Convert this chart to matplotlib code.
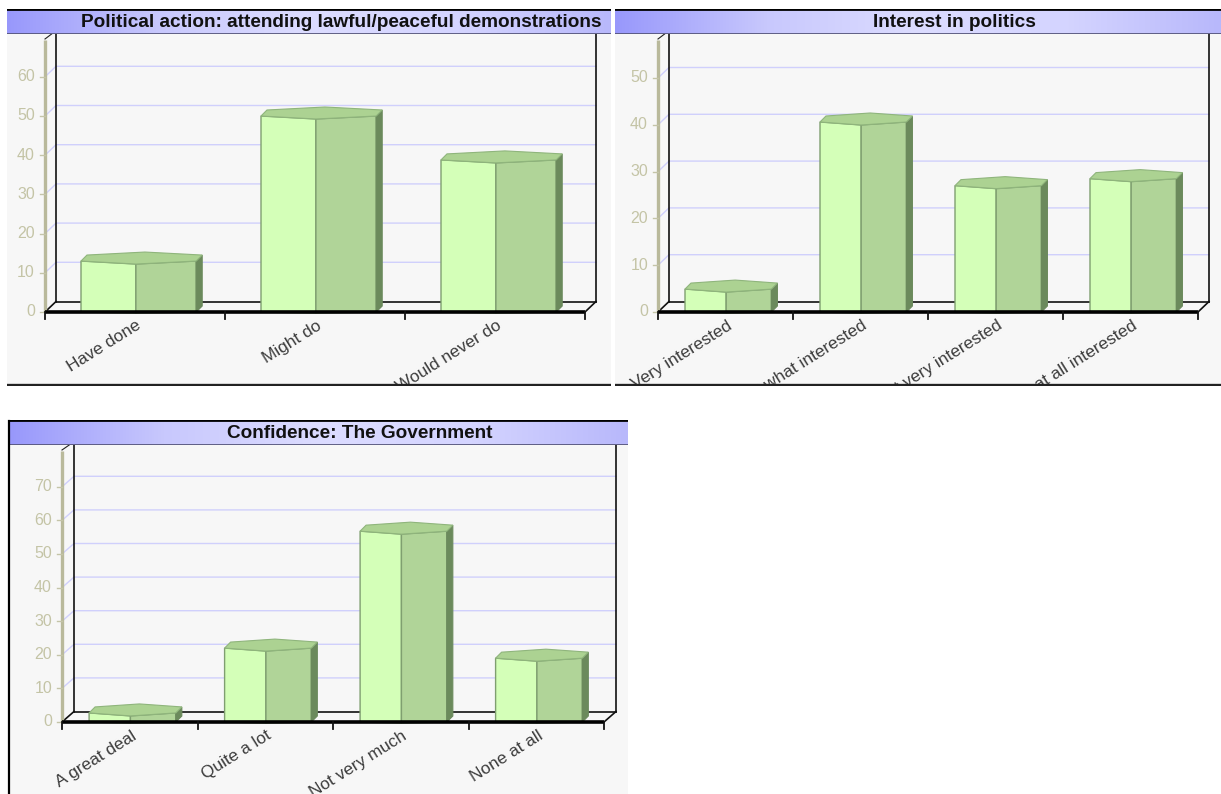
import numpy as np
import matplotlib
matplotlib.use('Agg')
import matplotlib.pyplot as plt
from matplotlib.colors import LinearSegmentedColormap
from matplotlib.patches import Polygon

plt.rcParams['font.family'] = ['Liberation Sans', 'DejaVu Sans']

W, H = 1221, 794

titles = ['Political action: attending lawful/peaceful demonstrations',
          'Interest in politics',
          'Confidence: The Government']
cats1 = ['Have done', 'Might do', 'Would never do']
vals1 = [13, 50, 38.8]
cats2 = ['Very interested', 'Somewhat interested', 'Not very interested', 'Not at all interested']
vals2 = [4.9, 40.6, 27, 28.5]
cats3 = ['A great deal', 'Quite a lot', 'Not very much', 'None at all']
vals3 = [2.7, 22, 56.8, 19]
ymax1, ymax2, ymax3 = 60, 50, 70

title_cmap = LinearSegmentedColormap.from_list('bar', ['#9898fb', '#c8c8fd', '#dcdcff', '#d4d4ff', '#b8b8fb'])


def px_axes(x0, y0, x1, y1):
    return fig.add_axes([x0 / W, 1 - y1 / H, (x1 - x0) / W, (y1 - y0) / H])


def draw_bar(ax, i, v, sx, sy):
    # hexagonal prism, sx and sy are the size of one pixel in data units
    l, m, r = i + 0.2, i + 0.505, i + 0.84
    d1x, d1y = 6 * sx, 6 * sy
    bow = 3 * sy
    ax.add_patch(Polygon([(l, 0), (m, -bow / 3), (m, v - bow), (l, v)], fc='#d4ffb8', ec='#7f9f70', lw=1, zorder=5))
    ax.add_patch(Polygon([(m, -bow / 3), (r, 0), (r, v), (m, v - bow)], fc='#b0d498', ec='#7f9f70', lw=1, zorder=5))
    ax.add_patch(Polygon([(r, 0), (r + d1x, d1y), (r + d1x, v + d1y), (r, v)], fc='#6b8a5c', ec='#6b8a5c', lw=0.8, zorder=5))
    ax.add_patch(Polygon([(l, v), (l + d1x, v + d1y), (m + 9 * sx, v + d1y + bow), (r + d1x, v + d1y),
                          (r, v), (m, v - bow)], fc='#acd292', ec='#8fb57c', lw=0.8, zorder=6))


def panel(box, title, title_x, cats, vals, ymax, x_front, x_end, y0, y_scale, depth_x, bottom_line=True, left_line=False):
    x0, y_top, x1, y_bar, y1 = box
    n = len(cats)
    cat_w = (x_end - x_front) / n
    sx, sy = 1 / cat_w, 1 / y_scale

    # title bar
    tb = px_axes(x0, y_top, x1, y_bar)
    tb.imshow(np.linspace(0, 1, 256)[None, :], cmap=title_cmap, aspect='auto', extent=[x0, x1, 0, 1])
    tb.set_xlim(x0, x1)
    tb.set_ylim(0, 1)
    tb.axis('off')
    tb.text(title_x, 0.47, title, ha='center', va='center', fontsize=13.7, fontweight='bold', color='#111111')
    tb.axhline(1, color='black', lw=2)
    tb.axhline(0, color='#55557a', lw=2)

    ax = px_axes(x0, y_bar, x1, y1)
    ax.set_facecolor('#f7f7f7')
    ax.set_xlim((x0 - x_front) * sx, (x1 - x_front) * sx)
    ax.set_ylim((y0 - y1) * sy, (y0 - y_bar) * sy)
    ax.set_xticks([])
    ax.set_yticks([])
    for s in ax.spines.values():
        s.set_visible(False)

    dx, dy = depth_x * sx, 10.5 * sy
    back_top = (y0 - y_bar) * sy

    # back wall grid
    for v in np.arange(10, ymax + 1, 10):
        ax.plot([0, dx, n + dx], [v, v + dy, v + dy], color='#d0d0fc', lw=1, zorder=1)

    # wall and floor frame
    ax.plot([dx, dx], [dy, back_top], color='#111111', lw=1.2, zorder=2)
    ax.plot([n + dx, n + dx], [dy, back_top], color='#111111', lw=1.2, zorder=2)
    ax.plot([dx, n + dx], [dy, dy], color='#111111', lw=1.2, zorder=2)
    ax.plot([0, dx], [0, dy], color='#111111', lw=1.2, zorder=2)
    ax.plot([n, n + dx], [0, dy], color='#111111', lw=1.2, zorder=2)

    # khaki value axis
    top_v = back_top - 6 * sy
    ax.plot([0, 0], [0, top_v], color='#b9b99b', lw=2.4, zorder=3, solid_capstyle='butt')
    ax.plot([0, 0.6 * dx], [top_v + sy, top_v + 6 * sy], color='#222222', lw=0.8, zorder=3)
    for v in np.arange(0, ymax + 1, 10):
        ax.plot([-5 * sx, 0], [v, v], color='#c4c4a8', lw=1, zorder=3)
        ax.text(-10 * sx, v, str(int(v)), ha='right', va='center', fontsize=11.5, color='#c4c4a6')

    for i, v in enumerate(vals):
        draw_bar(ax, i, v, sx, sy)

    # front category axis
    ax.plot([0, n], [0, 0], color='black', lw=2.6, zorder=7, solid_capstyle='butt')
    for i in range(n + 1):
        ax.plot([i, i], [0, -7 * sy], color='#111111', lw=1.3, zorder=7)

    for i, c in enumerate(cats):
        ax.text(i + 0.5 + 1 * sx, -6 * sy, c, rotation=32, rotation_mode='anchor', ha='right', va='top',
                fontsize=12.4, color='#3c3c3c', clip_on=True)

    if bottom_line:
        ax.axhline((y0 - y1 + 1) * sy, color='#222222', lw=2.4, zorder=8)
    if left_line:
        fig.add_artist(plt.Line2D([x0 / W, x0 / W], [1 - (y_top + 1) / H, 1 - y1 / H], color='black', lw=1.6))


fig = plt.figure(figsize=(W / 100, H / 100), dpi=100, facecolor='white')

panel((7, 9, 611, 34, 386), titles[0], 341, cats1, vals1, ymax1, 45, 585, 312, 3.92, 11)
panel((615, 9, 1221, 34, 386), titles[1], 954, cats2, vals2, ymax2, 658, 1198, 312, 4.68, 11)
panel((9, 420, 628, 445, 794), titles[2], 360, cats3, vals3, ymax3, 62, 604, 722, 3.36, 12, bottom_line=False, left_line=True)

fig.savefig('out.png', dpi=100)
